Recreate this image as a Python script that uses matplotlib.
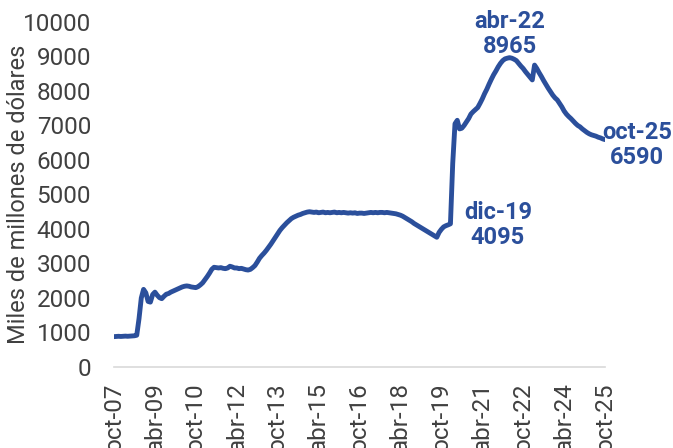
import numpy as np
import matplotlib.pyplot as plt

# Reservas mensuales, oct-07 a oct-25 (miles de millones de dólares)
valores = [
    # 2007 oct-dic
    880, 885, 890,
    # 2008
    885, 890, 895, 890, 895, 900, 905, 920, 1400, 2000, 2250, 2150,
    # 2009
    1900, 1880, 2100, 2170, 2080, 2010, 1980, 2050, 2110, 2130, 2170, 2200,
    # 2010
    2230, 2260, 2290, 2320, 2340, 2350, 2340, 2320, 2310, 2300, 2330, 2380,
    # 2011
    2440, 2530, 2620, 2720, 2830, 2890, 2880, 2870, 2880, 2860, 2850, 2870,
    # 2012
    2920, 2900, 2870, 2870, 2850, 2860, 2840, 2820, 2810, 2830, 2880, 2940,
    # 2013
    3040, 3150, 3230, 3300, 3380, 3470, 3560, 3660, 3760, 3860, 3960, 4040,
    # 2014
    4110, 4180, 4240, 4300, 4340, 4370, 4400, 4420, 4450, 4470, 4490, 4500,
    # 2015
    4490, 4480, 4490, 4470, 4480, 4490, 4470, 4480, 4470, 4480, 4490, 4470,
    # 2016
    4480, 4470, 4480, 4470, 4460, 4470, 4460, 4470, 4450, 4460, 4460, 4450,
    # 2017
    4460, 4470, 4480, 4470, 4480, 4470, 4480, 4480, 4470, 4480, 4470, 4460,
    # 2018
    4450, 4440, 4420, 4400, 4370, 4330, 4290, 4250, 4210, 4160, 4120, 4080,
    # 2019
    4040, 4000, 3960, 3920, 3880, 3840, 3800, 3760, 3900, 3990, 4060, 4095,
    # 2020
    4120, 4150, 5900, 7050, 7150, 6900, 6920, 7000, 7100, 7200, 7330, 7400,
    # 2021
    7460, 7520, 7640, 7770, 7920, 8050, 8200, 8340, 8470, 8580, 8700, 8800,
    # 2022
    8880, 8930, 8950, 8965, 8950, 8920, 8880, 8800, 8720, 8650, 8560, 8480,
    # 2023
    8400, 8320, 8750, 8650, 8530, 8420, 8300, 8190, 8080, 7980, 7880, 7800,
    # 2024
    7740, 7640, 7540, 7420, 7330, 7260, 7200, 7130, 7060, 7000, 6960, 6900,
    # 2025 ene-oct
    6850, 6800, 6760, 6730, 6710, 6690, 6660, 6640, 6610, 6590,
]

etiquetas_x = ['oct-07', 'abr-09', 'oct-10', 'abr-12', 'oct-13', 'abr-15', 'oct-16',
               'abr-18', 'oct-19', 'abr-21', 'oct-22', 'abr-24', 'oct-25']

# anotaciones: (índice del mes, texto)
anotaciones = [(146, 'dic-19\n4095'), (174, 'abr-22\n8965'), (216, 'oct-25\n6590')]

azul = '#2b4f9b'
gris = '#404040'

plt.rcParams['font.family'] = ['Roboto', 'DejaVu Sans']

meses = np.arange(len(valores))

fig = plt.figure(figsize=(6.73, 4.48), dpi=100)
ax = fig.add_axes([0.1694, 0.1808, 0.7296, 0.7702])

ax.plot(meses, valores, color=azul, linewidth=3.5, solid_capstyle='round')

ax.set_xlim(0, len(valores) - 1)
ax.set_ylim(0, 10000)
ax.set_yticks(np.arange(0, 10001, 1000))
ax.set_xticks(np.arange(0, len(valores), 18))
ax.set_xticklabels(etiquetas_x, rotation=90, va='top', ha='center')

for lado in ['top', 'right', 'left']:
    ax.spines[lado].set_visible(False)
ax.spines['bottom'].set_color('#d9d9d9')
ax.spines['bottom'].set_linewidth(1.2)

ax.tick_params(axis='y', length=0, pad=16.5, labelsize=17.5, labelcolor=gris)
ax.tick_params(axis='x', length=0, pad=11, labelsize=17.5, labelcolor=gris)
ax.set_ylabel('Miles de millones de dólares', fontsize=17, color=gris)
ax.yaxis.set_label_coords(-0.171, 0.5)

# posiciones de texto relativas al punto (en píxeles)
desplaz = {146: (52, 25), 174: (0, 0), 216: (32, -5)}
alineacion = {146: ('center', 'top'), 174: ('center', 'bottom'), 216: ('center', 'center')}

for idx, texto in anotaciones:
    dx, dy = desplaz[idx]
    ha, va = alineacion[idx]
    ax.annotate(texto, xy=(idx, valores[idx]), xytext=(dx, dy), textcoords='offset pixels',
                ha=ha, va=va, fontsize=17, fontweight='bold', color=azul,
                linespacing=1.1, annotation_clip=False)

fig.savefig('out.png', dpi=100)
